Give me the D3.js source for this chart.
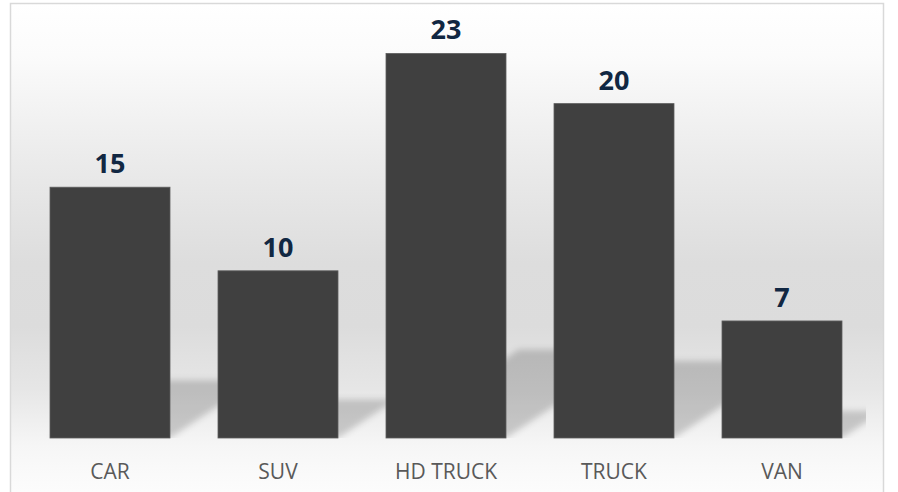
<!DOCTYPE html>
<html>
<head>
<meta charset="utf-8">
<script src="https://cdn.jsdelivr.net/npm/d3@7"></script>
<style>
  body { margin: 0; background: #fff; }
  svg { display: block; }
</style>
</head>
<body>
<div id="chart"></div>
<script>
// chart data
var categories = ["CAR", "SUV", "HD TRUCK", "TRUCK", "VAN"];
var values = [15, 10, 23, 20, 7];
var yMax = 25;

var width = 898, height = 492;
var plot = { left: 26, right: 866, top: 20, bottom: 438 };

var svg = d3.select("#chart")
    .append("svg")
    .attr("width", width)
    .attr("height", height);

var defs = svg.append("defs");

// background gradient of the chart area
var bg = defs.append("linearGradient")
    .attr("id", "bgGrad")
    .attr("x1", 0).attr("y1", 0).attr("x2", 0).attr("y2", 1);
[[0, "#ffffff"], [0.1, "#fbfbfb"], [0.3, "#ebebeb"], [0.5, "#dddddd"],
 [0.62, "#dcdcdc"], [0.74, "#e6e6e6"], [0.85, "#f6f6f6"], [0.92, "#fbfbfb"], [1, "#ffffff"]]
    .forEach(function(s) {
        bg.append("stop").attr("offset", s[0]).attr("stop-color", s[1]);
    });

var blur = defs.append("filter")
    .attr("id", "shadowBlur")
    .attr("x", "-20%").attr("y", "-20%")
    .attr("width", "140%").attr("height", "140%");
blur.append("feGaussianBlur").attr("stdDeviation", 3);

defs.append("clipPath")
    .attr("id", "plotClip")
    .append("rect")
    .attr("x", plot.left)
    .attr("y", 0)
    .attr("width", plot.right - plot.left)
    .attr("height", plot.bottom);

svg.append("rect")
    .attr("x", 10.5)
    .attr("y", 3.5)
    .attr("width", 873)
    .attr("height", 520)
    .attr("fill", "url(#bgGrad)")
    .attr("stroke", "#d9d9d9")
    .attr("stroke-width", 1.5);

var x = d3.scaleBand()
    .domain(categories)
    .range([plot.left, plot.right])
    .paddingInner(2 / 7)
    .paddingOuter(1 / 7);

var y = d3.scaleLinear()
    .domain([0, yMax])
    .range([plot.bottom, plot.top]);

var data = categories.map(function(c, i) { return { name: c, value: values[i] }; });

// perspective shadows behind the bars
var shadowRatio = 0.23, skew = 1.5;
svg.append("g")
    .attr("clip-path", "url(#plotClip)")
    .append("g")
    .attr("filter", "url(#shadowBlur)")
    .selectAll("polygon")
    .data(data)
    .enter().append("polygon")
    .attr("points", function(d) {
        var x0 = x(d.name), x1 = x0 + x.bandwidth();
        var hs = (y(0) - y(d.value)) * shadowRatio;
        var b = y(0), t = y(0) - hs;
        return [[x0, b], [x1, b], [x1 + hs * skew, t], [x0 + hs * skew, t]].join(" ");
    })
    .attr("fill", "#000")
    .attr("fill-opacity", 0.18);

svg.append("g")
    .selectAll("rect")
    .data(data)
    .enter().append("rect")
    .attr("x", function(d) { return x(d.name); })
    .attr("y", function(d) { return y(d.value); })
    .attr("width", x.bandwidth())
    .attr("height", function(d) { return y(0) - y(d.value); })
    .attr("fill", "#404040")
    .attr("stroke", "#5e5e5e")
    .attr("stroke-width", 0.8);

svg.append("g")
    .selectAll("text")
    .data(data)
    .enter().append("text")
    .attr("x", function(d) { return x(d.name) + x.bandwidth() / 2; })
    .attr("y", function(d) { return y(d.value) - 14; })
    .attr("text-anchor", "middle")
    .attr("font-family", "'Open Sans', sans-serif")
    .attr("font-weight", "bold")
    .attr("font-size", 27)
    .attr("fill", "#112742")
    .text(function(d) { return d.value; });

// category axis
var xAxis = svg.append("g")
    .attr("transform", "translate(0," + plot.bottom + ")")
    .call(d3.axisBottom(x).tickSize(0).tickPadding(26));
xAxis.select(".domain").remove();
xAxis.selectAll("text")
    .attr("font-family", "'Open Sans', sans-serif")
    .attr("font-size", 21)
    .attr("fill", "#595959");
</script>
</body>
</html>
